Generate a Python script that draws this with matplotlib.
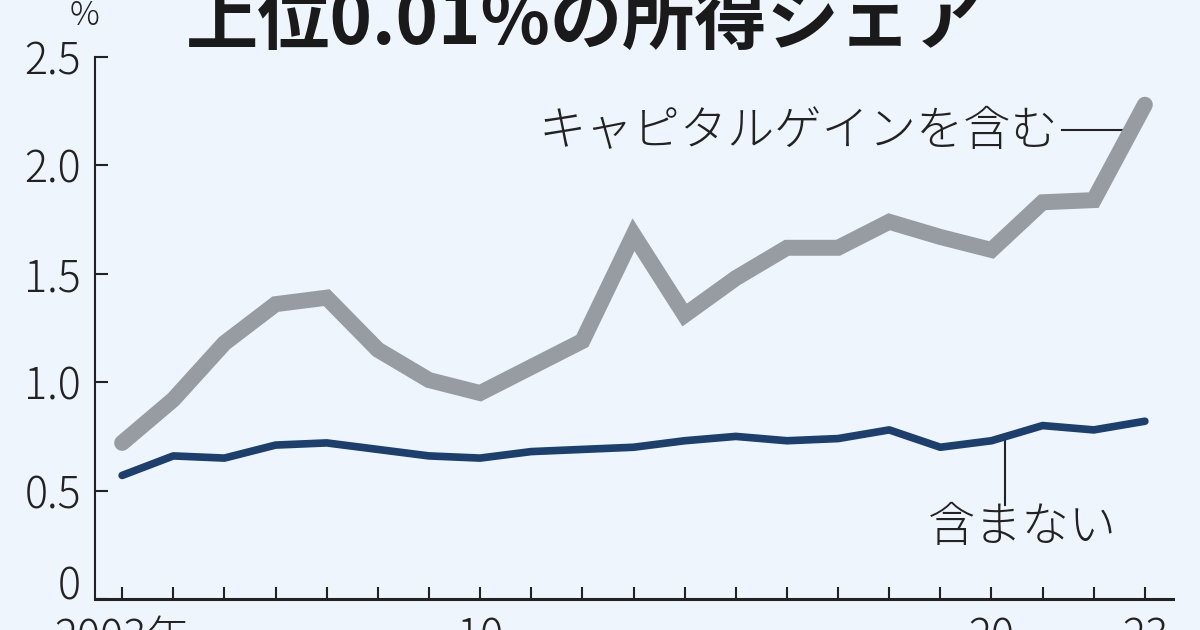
# 上位0.01%の所得シェア — line chart

import matplotlib
matplotlib.use("Agg")
import matplotlib.pyplot as plt
import matplotlib.transforms as mtransforms

plt.rcParams["font.family"] = ["Noto Sans CJK JP", "DejaVu Sans"]

# ---------------------------------------------
# DATA
# ---------------------------------------------

years = list(range(2003, 2024))

with_gains = [0.72, 0.92, 1.18, 1.36, 1.39, 1.15, 1.01, 0.95, 1.07, 1.19,
              1.68, 1.31, 1.48, 1.62, 1.62, 1.74, 1.67, 1.61, 1.83, 1.84, 2.28]

without_gains = [0.57, 0.66, 0.65, 0.71, 0.72, 0.69, 0.66, 0.65, 0.68, 0.69,
                 0.70, 0.73, 0.75, 0.73, 0.74, 0.78, 0.70, 0.73, 0.80, 0.78, 0.82]

y_ticks = [0, 0.5, 1.0, 1.5, 2.0, 2.5]
y_labels = ["0", "0.5", "1.0", "1.5", "2.0", "2.5"]

x_label_years = [2003, 2010, 2020, 2023]
x_labels = ["2003年", "10", "20", "23"]

title = "上位0.01%の所得シェア"
label_with = "キャピタルゲインを含む"
label_without = "含まない"

# ---------------------------------------------
# FIGURE
# ---------------------------------------------

bg = "#eef5fc"
ink = "#222222"
fig = plt.figure(figsize=(12, 6.3), dpi=100, facecolor=bg)
ax = fig.add_axes([0.0792, 0.0492, 0.8983, 0.8603], facecolor=bg)

ax.plot(years, with_gains, color="#979ca2", linewidth=11.5,
        solid_capstyle="round", solid_joinstyle="miter", zorder=3)
ax.plot(years, without_gains, color="#1c3f6e", linewidth=5.5,
        solid_capstyle="round", solid_joinstyle="round", zorder=4)

ax.set_xlim(2002.47, 2023.55)
ax.set_ylim(0, 2.5)

ax.spines["top"].set_visible(False)
ax.spines["right"].set_visible(False)
ax.spines["left"].set_linewidth(1.5)
ax.spines["bottom"].set_linewidth(2.2)
ax.spines["left"].set_color(ink)
ax.spines["bottom"].set_color(ink)

ax.set_yticks(y_ticks)
ax.set_yticklabels(y_labels)
ax.set_xticks(years)
ax.set_xticklabels([x_labels[x_label_years.index(y)] if y in x_label_years else ""
                    for y in years])

ax.tick_params(axis="y", direction="in", length=9, width=1.5, pad=10,
               labelsize=31, colors=ink)
ax.tick_params(axis="x", direction="in", length=9, width=1.5, pad=12,
               labelsize=31, colors=ink)

for lab in ax.get_yticklabels() + ax.get_xticklabels():
    lab.set_fontweight("light")

# the "0" sits just above the axis line
zero = ax.get_yticklabels()[0]
zero.set_transform(zero.get_transform()
                   + mtransforms.ScaledTranslation(0, 0.17, fig.dpi_scale_trans))

# ---------------------------------------------
# LABELS
# ---------------------------------------------

fig.text(0.07, 0.975, "%", fontsize=24, ha="center", va="center", color=ink,
         fontweight="light")
fig.text(0.155, 0.93, title, fontsize=52, fontweight="bold", ha="left",
         va="baseline", color="#1a1a1a")

ax.text(2021.3, 2.155, label_with, fontsize=34, ha="right", va="center",
        color=ink, fontweight="light")
ax.plot([2021.38, 2022.61], [2.163, 2.163], color=ink, linewidth=1.5,
        zorder=2)

ax.plot([2020.26, 2020.26], [0.733, 0.434], color=ink, linewidth=1.5,
        zorder=2)
ax.text(2020.6, 0.33, label_without, fontsize=34, ha="center", va="center",
        color=ink, fontweight="light")

fig.savefig("out.png", dpi=100, facecolor=bg)
